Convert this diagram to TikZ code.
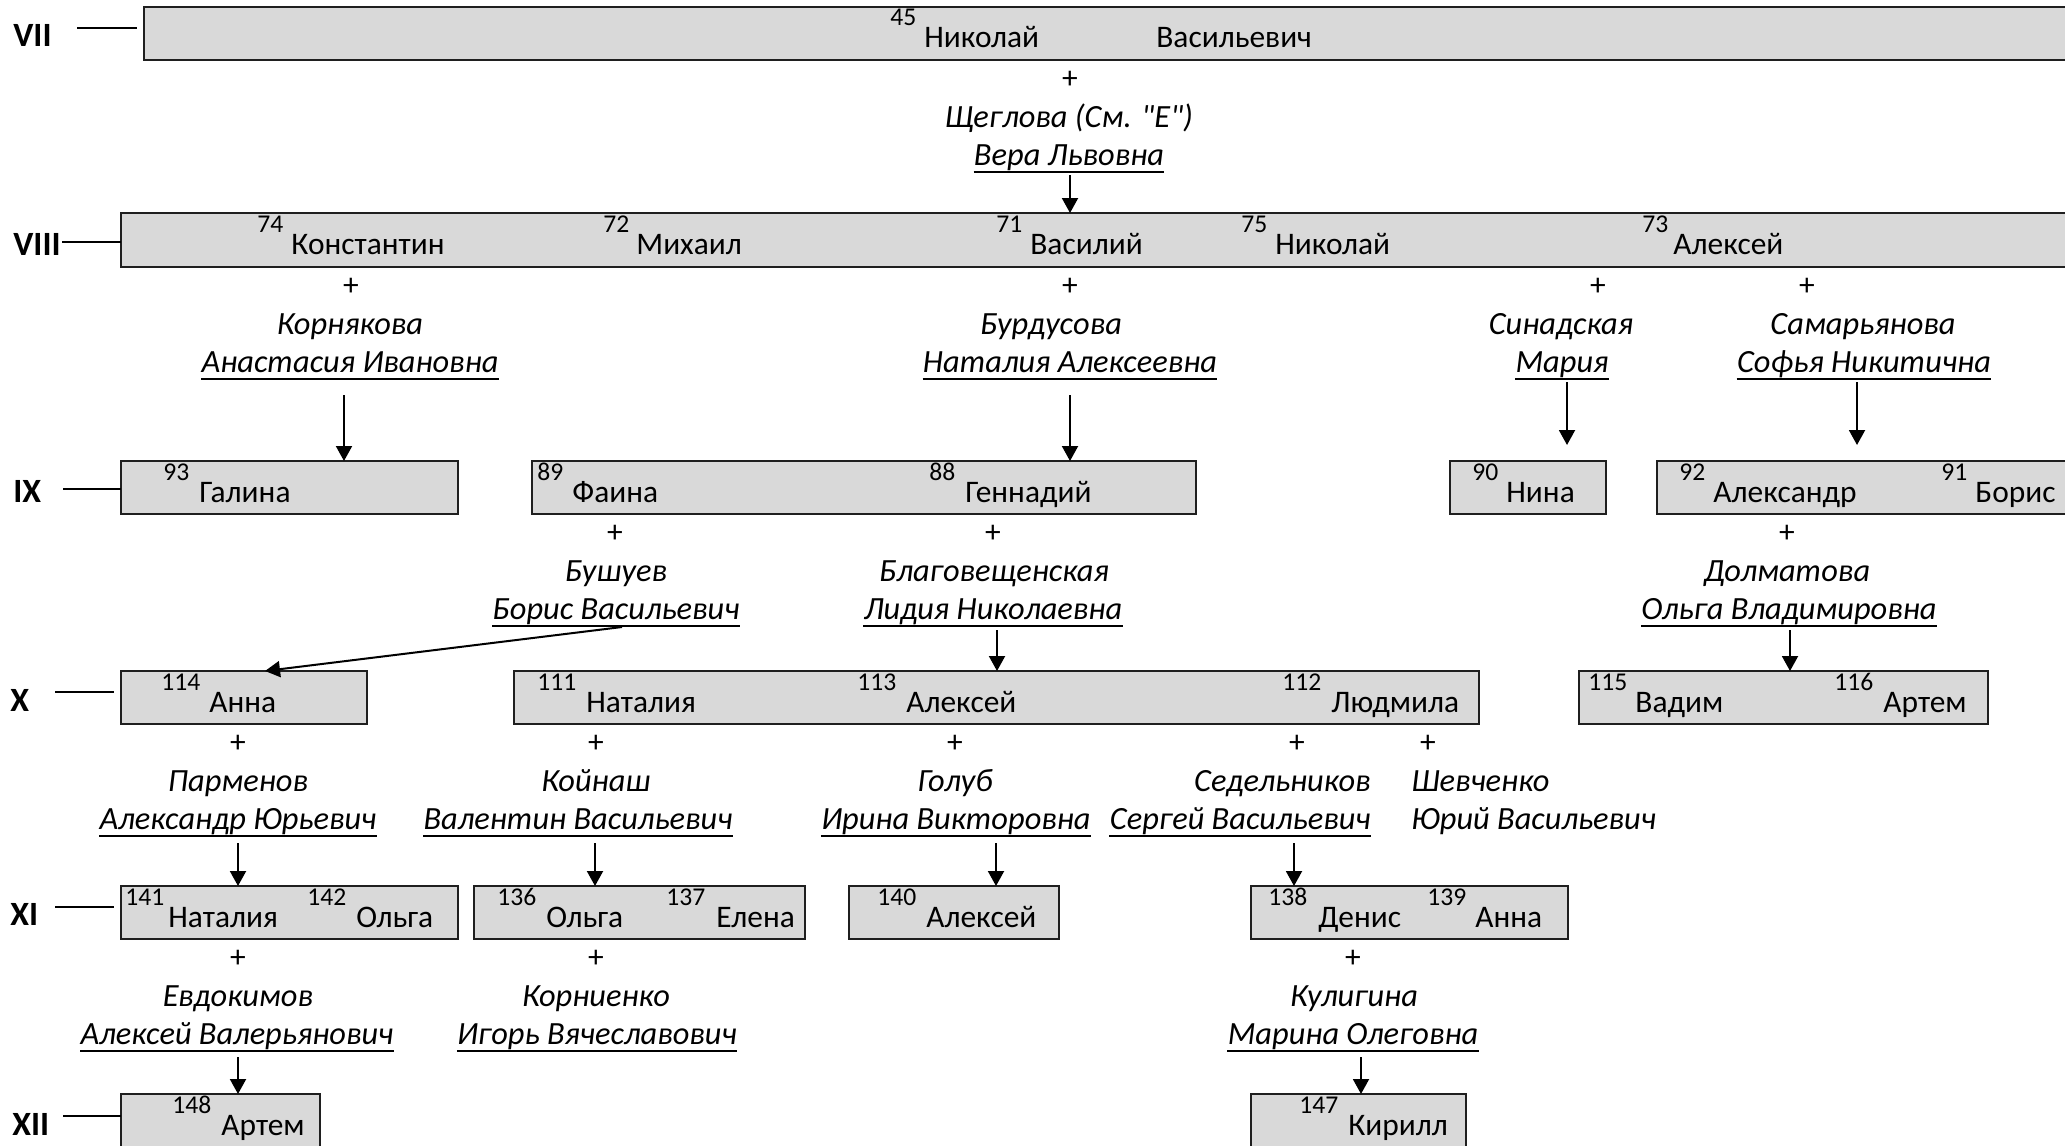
\documentclass[tikz,border=0pt]{standalone}
\usepackage{fontspec}
\setmainfont{Carlito}[Ligatures=TeXOff]
\usetikzlibrary{arrows.meta,fit,calc}
\definecolor{boxgray}{HTML}{D9D9D9}
\definecolor{edge}{HTML}{1F1F1F}
\tikzset{
 x=0.5pt, y=-0.5pt,
 box/.style={draw=edge, fill=boxgray, line width=1.3pt, inner sep=0pt, outer sep=0pt},
 nm/.style={anchor=base west, inner sep=0pt, font=\fontsize{15.7}{18}\selectfont},
 supn/.style={anchor=base west, inner sep=0pt, font=\fontsize{12.8}{14}\selectfont},
 sp/.style={anchor=base, inner sep=0pt, font=\fontsize{16.2}{18}\selectfont\itshape},
 plus/.style={inner sep=0pt, font=\fontsize{15.7}{18}\selectfont},
 gen/.style={anchor=base west, inner sep=0pt, font=\fontsize{17}{18}\selectfont\bfseries},
 arr/.style={draw=black, line width=1pt, -{Triangle[width=8pt,length=7.5pt]}},
 lbl/.style={draw=black, line width=1pt},
 ul/.style={draw=black, line width=1.2pt},
}
\newcommand\bx[5]{\coordinate (#1-a) at (#2,#3); \coordinate (#1-b) at (#4,#5); \node[box, fit=(#1-a)(#1-b)] (#1) {};}
\newcommand\pp[5]{\node[supn] (n#4) at (#1,#3+19) {#4}; \node[nm] (p#4) at (#2,#3+41) {#5};}
\newcommand\ulin[1]{\draw[ul] ([yshift=-3.5pt]#1.base west) -- ([yshift=-3.5pt]#1.base east);}
\begin{document}
\begin{tikzpicture}
\useasboundingbox (0,0) rectangle (2065,1145);
\clip (0,0) rectangle (2065,1145);
% generation labels
\node[gen] (l7) at (13,47) {VII};
\node[gen] (l8) at (13,255) {VIII};
\node[gen] (l9) at (13,502) {IX};
\node[gen] (l10) at (10,711) {X};
\node[gen] (l11) at (10,925) {XI};
\node[gen] (l12) at (12,1135) {XII};
% boxes
\bx{b7}{144}{7}{2075}{60}
\bx{b8}{121}{213}{2075}{267}
\bx{b9a}{121}{461}{458}{514}
\bx{b9b}{532}{461}{1196}{514}
\bx{b9c}{1450}{461}{1606}{514}
\bx{b9d}{1657}{461}{2075}{514}
\bx{b10a}{121}{671}{367}{724}
\bx{b10b}{514}{671}{1479}{724}
\bx{b10c}{1579}{671}{1988}{724}
\bx{b11a}{121}{886}{458}{939}
\bx{b11b}{474}{886}{805}{939}
\bx{b11c}{849}{886}{1059}{939}
\bx{b11d}{1251}{886}{1568}{939}
\bx{b12a}{121}{1094}{320}{1160}
\bx{b12b}{1251}{1094}{1466}{1160}
% label ticks
\draw[lbl] (77,28) -- ([xshift=-3.5pt]b7.west |- 0,28);
\draw[lbl] (62,242) -- (b8.west |- 0,242);
\draw[lbl] (63,489) -- (b9a.west |- 0,489);
\draw[lbl] (55,692) -- ([xshift=-3.5pt]b10a.west |- 0,692);
\draw[lbl] (55,907) -- ([xshift=-3.5pt]b11a.west |- 0,907);
\draw[lbl] (63,1116) -- (b12a.west |- 0,1116);
% persons
\pp{890}{924}{7}{45}{Николай}
\node[nm] (p45b) at (1156,48) {Васильевич};
\pp{257}{291}{213}{74}{Константин}
\pp{603}{636}{213}{72}{Михаил}
\pp{996}{1030}{213}{71}{Василий}
\pp{1241}{1275}{213}{75}{Николай}
\pp{1642}{1673}{213}{73}{Алексей}
\pp{163}{199}{461}{93}{Галина}
\pp{537}{572}{461}{89}{Фаина}
\pp{929}{965}{461}{88}{Геннадий}
\pp{1472}{1506}{461}{90}{Нина}
\pp{1679}{1713}{461}{92}{Александр}
\pp{1941}{1975}{461}{91}{Борис}
\pp{161}{209}{671}{114}{Анна}
\pp{537}{586}{671}{111}{Наталия}
\pp{857}{906}{671}{113}{Алексей}
\pp{1282}{1331}{671}{112}{Людмила}
\pp{1588}{1635}{671}{115}{Вадим}
\pp{1834}{1883}{671}{116}{Артем}
\pp{125}{168}{886}{141}{Наталия}
\pp{307}{356}{886}{142}{Ольга}
\pp{497}{546}{886}{136}{Ольга}
\pp{666}{716}{886}{137}{Елена}
\pp{877}{926}{886}{140}{Алексей}
\pp{1268}{1318}{886}{138}{Денис}
\pp{1427}{1475}{886}{139}{Анна}
\pp{172}{221}{1094}{148}{Артем}
\pp{1299}{1348}{1094}{147}{Кирилл}
% spouses VII
\node[plus] (x7) at (1070,80) {+};
\node[sp] (s7a) at (1069,127) {Щеглова (См. "Е")};
\node[sp] (s7b) at (1069,165) {Вера Львовна}; \ulin{s7b}
\coordinate (a7) at (1070,175);
\draw[arr] (a7) -- (a7 |- b8.north);
% spouses VIII
\node[plus] (x74) at (351,287) {+};
\node[sp] (s74a) at (350,334) {Корнякова};
\node[sp] (s74b) at (350,372) {Анастасия Ивановна}; \ulin{s74b}
\coordinate (a74) at (344,395);
\draw[arr] (a74) -- (a74 |- b9a.north);
\node[plus] (x71) at (1070,287) {+};
\node[sp] (s71a) at (1051,334) {Бурдусова};
\node[sp] (s71b) at (1070,372) {Наталия Алексеевна}; \ulin{s71b}
\coordinate (a71) at (1070,395);
\draw[arr] (a71) -- (a71 |- b9b.north);
\node[plus] (x75) at (1598,287) {+};
\node[sp] (s75a) at (1561,334) {Синадская};
\node[sp] (s75b) at (1562,372) {Мария}; \ulin{s75b}
\coordinate (a75) at (1567,382);
\draw[arr] (a75) -- ([yshift=8pt]a75 |- b9c.north);
\node[plus] (x73) at (1807,287) {+};
\node[sp] (s73a) at (1863,334) {Самарьянова};
\node[sp] (s73b) at (1864,372) {Софья Никитична}; \ulin{s73b}
\coordinate (a73) at (1857,382);
\draw[arr] (a73) -- ([yshift=8pt]a73 |- b9d.north);
% spouses IX
\node[plus] (x89) at (615,534) {+};
\node[sp] (s89a) at (616,581) {Бушуев};
\node[sp] (s89b) at (616,619) {Борис Васильевич}; \ulin{s89b}
\coordinate (a89) at (622,627);
\draw[arr] (a89) -- ([xshift=10.5pt]b10a.north);
\node[plus] (x88) at (993,534) {+};
\node[sp] (s88a) at (994,581) {Благовещенская};
\node[sp] (s88b) at (993,619) {Лидия Николаевна}; \ulin{s88b}
\coordinate (a88) at (997,630);
\draw[arr] (a88) -- (a88 |- b10b.north);
\node[plus] (x92) at (1787,534) {+};
\node[sp] (s92a) at (1787,581) {Долматова};
\node[sp] (s92b) at (1789,619) {Ольга Владимировна}; \ulin{s92b}
\coordinate (a92) at (1790,630);
\draw[arr] (a92) -- (a92 |- b10c.north);
% spouses X
\node[plus] (x114) at (238,744) {+};
\node[sp] (s114a) at (238,791) {Парменов};
\node[sp] (s114b) at (238,829) {Александр Юрьевич}; \ulin{s114b}
\coordinate (a114) at (238,843);
\draw[arr] (a114) -- (a114 |- b11a.north);
\node[plus] (x111) at (596,744) {+};
\node[sp] (s111a) at (596,791) {Койнаш};
\node[sp] (s111b) at (578,829) {Валентин Васильевич}; \ulin{s111b}
\coordinate (a111) at (595,843);
\draw[arr] (a111) -- (a111 |- b11b.north);
\node[plus] (x113) at (955,744) {+};
\node[sp] (s113a) at (955,791) {Голуб};
\node[sp] (s113b) at (956,829) {Ирина Викторовна}; \ulin{s113b}
\coordinate (a113) at (996,843);
\draw[arr] (a113) -- (a113 |- b11c.north);
\node[plus] (x112) at (1297,744) {+};
\node[sp, anchor=base east] (s112a) at (1371,791) {Седельников};
\node[sp, anchor=base east] (s112b) at (1371,829) {Сергей Васильевич}; \ulin{s112b}
\coordinate (a112) at (1294,843);
\draw[arr] (a112) -- (a112 |- b11d.north);
\node[plus] (x112b) at (1428,744) {+};
\node[sp, anchor=base west] (s112c) at (1411,791) {Шевченко};
\node[sp, anchor=base west] (s112d) at (1411,829) {Юрий Васильевич};
% spouses XI
\node[plus] (x141) at (238,959) {+};
\node[sp] (s141a) at (238,1006) {Евдокимов};
\node[sp] (s141b) at (237,1044) {Алексей Валерьянович}; \ulin{s141b}
\coordinate (a141) at (238,1057);
\draw[arr] (a141) -- (a141 |- b12a.north);
\node[plus] (x136) at (596,959) {+};
\node[sp] (s136a) at (596,1006) {Корниенко};
\node[sp] (s136b) at (597,1044) {Игорь Вячеславович}; \ulin{s136b}
\node[plus] (x138) at (1353,959) {+};
\node[sp] (s138a) at (1354,1006) {Кулигина};
\node[sp] (s138b) at (1353,1044) {Марина Олеговна}; \ulin{s138b}
\coordinate (a138) at (1361,1057);
\draw[arr] (a138) -- (a138 |- b12b.north);
\end{tikzpicture}
\end{document}
